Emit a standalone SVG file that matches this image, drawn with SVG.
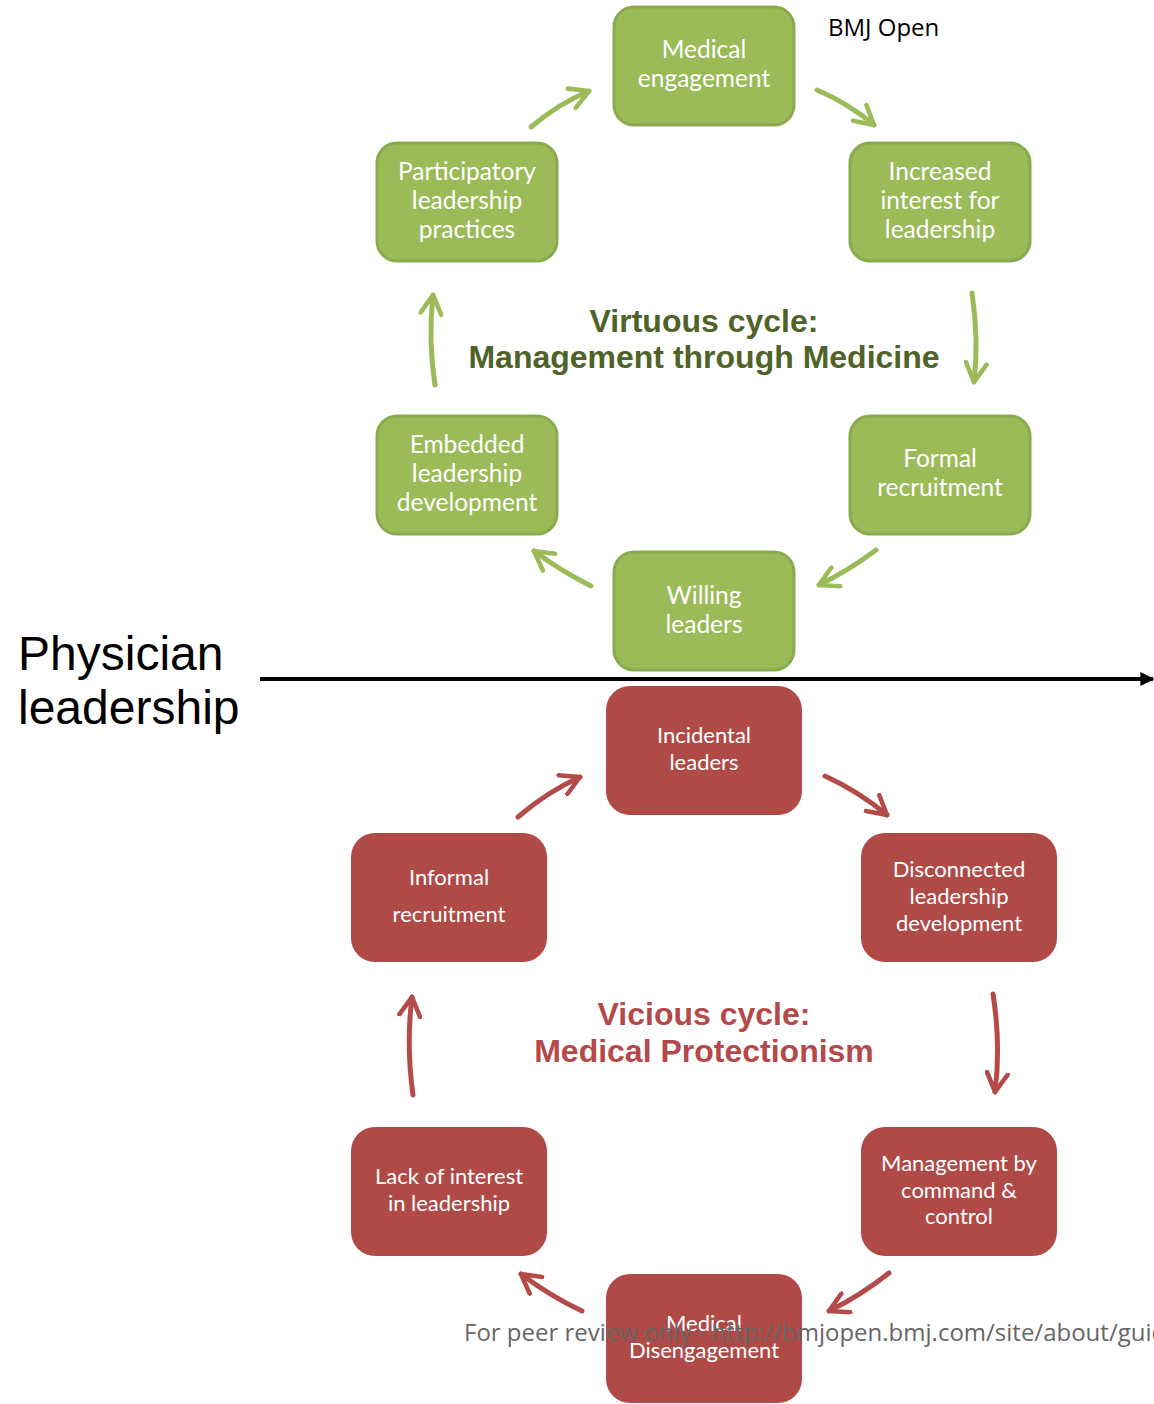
<svg xmlns="http://www.w3.org/2000/svg" width="1154" height="1404" viewBox="0 0 1154 1404">
<style>
.g rect{fill:#9bbb59;stroke:#8aab4d;stroke-width:3}
.r rect{fill:#b04a47}
.bt{font-family:Lato,"Open Sans",sans-serif;fill:#fff;text-anchor:middle}
.g .bt{font-size:24.5px}
.r .bt{font-size:22px}
.ga{fill:none;stroke:#9bbb59;stroke-width:5;stroke-linecap:round}
.ra{fill:none;stroke:#b34c49;stroke-width:5;stroke-linecap:round}
.title{font-family:"Liberation Sans",Arial,sans-serif;font-weight:bold;font-size:32px;text-anchor:middle}
</style>
<defs>
<marker id="mg" viewBox="0 0 12 12" refX="10" refY="6" markerWidth="5" markerHeight="5" orient="auto" markerUnits="strokeWidth">
<path d="M1,1 L10,6 L1,11" fill="none" stroke="#9bbb59" stroke-width="2.2" stroke-linecap="round" stroke-linejoin="round"/>
</marker>
<marker id="mr" viewBox="0 0 12 12" refX="10" refY="6" markerWidth="5" markerHeight="5" orient="auto" markerUnits="strokeWidth">
<path d="M1,1 L10,6 L1,11" fill="none" stroke="#b34c49" stroke-width="2.2" stroke-linecap="round" stroke-linejoin="round"/>
</marker>
<marker id="mk" viewBox="0 0 10 10" refX="9" refY="5" markerWidth="3.5" markerHeight="3.5" orient="auto" markerUnits="strokeWidth">
<path d="M0,0 L10,5 L0,10 Z" fill="#000"/>
</marker>
</defs>
<rect width="1154" height="1404" fill="#fff"/>

<text x="828" y="36" font-family="'Open Sans',sans-serif" font-size="24" fill="#000">BMJ Open</text>

<g id="connectors">
<path class="ga" d="M531,127 Q558,104 589,91" marker-end="url(#mg)"/>
<path class="ga" d="M817,90 Q848,103 874,125" marker-end="url(#mg)"/>
<path class="ga" d="M972,293 Q979,340 974,382" marker-end="url(#mg)"/>
<path class="ga" d="M876,550 Q848,571 819,585" marker-end="url(#mg)"/>
<path class="ga" d="M591,586 Q561,571 534,551" marker-end="url(#mg)"/>
<path class="ga" d="M435,385 Q428,340 433,295" marker-end="url(#mg)"/>
<path class="ra" d="M518,817 Q547,792 580,777" marker-end="url(#mr)"/>
<path class="ra" d="M825,776 Q858,791 887,815" marker-end="url(#mr)"/>
<path class="ra" d="M993,994 Q1001,1045 995,1092" marker-end="url(#mr)"/>
<path class="ra" d="M889,1273 Q860,1296 829,1311" marker-end="url(#mr)"/>
<path class="ra" d="M582,1311 Q550,1296 521,1274" marker-end="url(#mr)"/>
<path class="ra" d="M413,1095 Q406,1045 412,997" marker-end="url(#mr)"/>
<path d="M260,679 L1153,679" stroke="#000" stroke-width="4" marker-end="url(#mk)"/>
</g>

<g id="n-medical-engagement" class="g"><rect x="614" y="7" width="180" height="118" rx="20"/>
<text class="bt" x="704" y="58">Medical</text><text class="bt" x="704" y="87">engagement</text></g>
<g id="n-participatory" class="g"><rect x="377" y="143" width="180" height="118" rx="20"/>
<text class="bt" x="467" y="180">Participatory</text><text class="bt" x="467" y="209">leadership</text><text class="bt" x="467" y="238">practices</text></g>
<g id="n-increased" class="g"><rect x="850" y="143" width="180" height="118" rx="20"/>
<text class="bt" x="940" y="180">Increased</text><text class="bt" x="940" y="209">interest for</text><text class="bt" x="940" y="238">leadership</text></g>
<g id="n-embedded" class="g"><rect x="377" y="416" width="180" height="118" rx="20"/>
<text class="bt" x="467" y="453">Embedded</text><text class="bt" x="467" y="482">leadership</text><text class="bt" x="467" y="511">development</text></g>
<g id="n-formal" class="g"><rect x="850" y="416" width="180" height="118" rx="20"/>
<text class="bt" x="940" y="467">Formal</text><text class="bt" x="940" y="496">recruitment</text></g>
<g id="n-willing" class="g"><rect x="614" y="552" width="180" height="118" rx="20"/>
<text class="bt" x="704" y="604">Willing</text><text class="bt" x="704" y="633">leaders</text></g>

<text class="title" x="704" y="332" fill="#4f6228">Virtuous cycle:</text>
<text class="title" x="704" y="368" fill="#4f6228">Management through Medicine</text>

<text x="18" y="670" font-family="'Liberation Sans',Arial,sans-serif" font-size="48" fill="#000">Physician</text>
<text x="18" y="724" font-family="'Liberation Sans',Arial,sans-serif" font-size="48" fill="#000">leadership</text>

<g id="n-incidental" class="r"><rect x="606" y="686" width="196" height="129" rx="24"/>
<text class="bt" x="704" y="743">Incidental</text><text class="bt" x="704" y="770">leaders</text></g>
<g id="n-informal" class="r"><rect x="351" y="833" width="196" height="129" rx="24"/>
<text class="bt" x="449" y="885">Informal</text><text class="bt" x="449" y="922">recruitment</text></g>
<g id="n-disconnected" class="r"><rect x="861" y="833" width="196" height="129" rx="24"/>
<text class="bt" x="959" y="877">Disconnected</text><text class="bt" x="959" y="904">leadership</text><text class="bt" x="959" y="931">development</text></g>
<g id="n-lack" class="r"><rect x="351" y="1127" width="196" height="129" rx="24"/>
<text class="bt" x="449" y="1184">Lack of interest</text><text class="bt" x="449" y="1211">in leadership</text></g>
<g id="n-command" class="r"><rect x="861" y="1127" width="196" height="129" rx="24"/>
<text class="bt" x="959" y="1171">Management by</text><text class="bt" x="959" y="1198">command &amp;</text><text class="bt" x="959" y="1224">control</text></g>
<g id="n-disengagement" class="r"><rect x="606" y="1274" width="196" height="129" rx="24"/>
<text class="bt" x="704" y="1331">Medical</text><text class="bt" x="704" y="1358">Disengagement</text></g>

<text class="title" x="704" y="1025" fill="#b5494a">Vicious cycle:</text>
<text class="title" x="704" y="1062" fill="#b5494a">Medical Protectionism</text>

<text x="464" y="1341" font-family="'Open Sans',sans-serif" font-size="24" fill="#666">For peer review only - http://bmjopen.bmj.com/site/about/guidelines.xhtml</text>
</svg>
